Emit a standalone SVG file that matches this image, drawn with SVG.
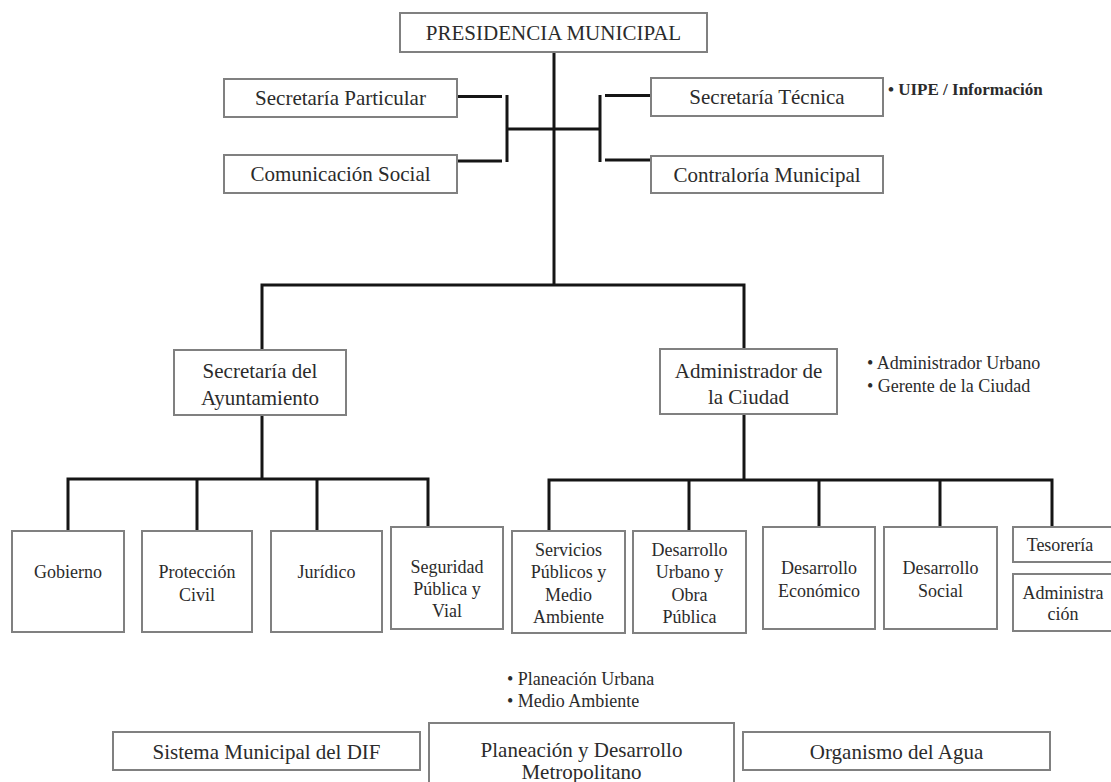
<svg xmlns="http://www.w3.org/2000/svg" width="1111" height="782" viewBox="0 0 1111 782">
  <style>
    .box { fill: #ffffff; stroke: #808080; stroke-width: 2; }
    .lbl { font-family: "Liberation Serif", "Times New Roman", serif; fill: #2b2b2b; text-anchor: middle; }
    .big { font-size: 21px; }
    .mid { font-size: 21px; }
    .small { font-size: 18px; }
    .note { font-family: "Liberation Serif", "Times New Roman", serif; fill: #2b2b2b; font-size: 18px; }
    .note-b { font-family: "Liberation Serif", "Times New Roman", serif; fill: #2b2b2b; font-size: 17px; font-weight: bold; }
    .wire { fill: none; stroke: #151515; stroke-width: 3; }
  </style>
  <rect width="1111" height="782" fill="#ffffff"/>

  <!-- connectors -->
  <g id="connectors">
    <!-- presidency trunk -->
    <line class="wire" x1="554" y1="52" x2="554" y2="286"/>
    <!-- staff units, left bracket -->
    <line class="wire" x1="457" y1="96.5" x2="502" y2="96.5"/>
    <line class="wire" x1="457" y1="161" x2="502" y2="161"/>
    <line class="wire" x1="507" y1="95" x2="507" y2="162"/>
    <!-- staff units, right bracket -->
    <line class="wire" x1="507" y1="129" x2="600" y2="129"/>
    <line class="wire" x1="600" y1="95" x2="600" y2="162"/>
    <line class="wire" x1="605" y1="95.5" x2="651" y2="95.5"/>
    <line class="wire" x1="605" y1="160" x2="651" y2="160"/>
    <!-- split to the two main branches -->
    <polyline class="wire" points="262,350 262,285 744,285 744,349"/>
    <!-- Secretaría del Ayuntamiento branch -->
    <line class="wire" x1="262" y1="415" x2="262" y2="479"/>
    <polyline class="wire" points="68,531 68,479 428,479 428,527"/>
    <line class="wire" x1="197" y1="479" x2="197" y2="531"/>
    <line class="wire" x1="317" y1="479" x2="317" y2="531"/>
    <!-- Administrador de la Ciudad branch -->
    <line class="wire" x1="744" y1="414" x2="744" y2="480"/>
    <polyline class="wire" points="549,531 549,480 1052,480 1052,527"/>
    <line class="wire" x1="689" y1="480" x2="689" y2="531"/>
    <line class="wire" x1="819" y1="480" x2="819" y2="527"/>
    <line class="wire" x1="940" y1="480" x2="940" y2="527"/>
  </g>

  <g id="presidencia">
    <rect class="box" x="400" y="13" width="307" height="39"/>
    <text class="lbl big" x="553.5" y="40">PRESIDENCIA MUNICIPAL</text>
  </g>

  <g id="sec-particular">
    <rect class="box" x="224" y="79" width="233" height="38"/>
    <text class="lbl mid" x="340.5" y="105">Secretaría Particular</text>
  </g>

  <g id="comunicacion">
    <rect class="box" x="224" y="155" width="233" height="38"/>
    <text class="lbl mid" x="340.5" y="181">Comunicación Social</text>
  </g>

  <g id="sec-tecnica">
    <rect class="box" x="651" y="78" width="232" height="38"/>
    <text class="lbl mid" x="767" y="104">Secretaría Técnica</text>
    <text class="note-b" x="888" y="95">• UIPE / Información</text>
  </g>

  <g id="contraloria">
    <rect class="box" x="651" y="156" width="232" height="37"/>
    <text class="lbl mid" x="767" y="182">Contraloría Municipal</text>
  </g>

  <g id="ayuntamiento">
    <rect class="box" x="174" y="350" width="172" height="65"/>
    <text class="lbl mid" x="260" y="378">Secretaría del</text>
    <text class="lbl mid" x="260" y="405">Ayuntamiento</text>
  </g>

  <g id="administrador">
    <rect class="box" x="660" y="349" width="177" height="65"/>
    <text class="lbl mid" x="748.5" y="378">Administrador de</text>
    <text class="lbl mid" x="748.5" y="404">la Ciudad</text>
    <text class="note" x="867" y="369">• Administrador Urbano</text>
    <text class="note" x="867" y="392">• Gerente de la Ciudad</text>
  </g>

  <g id="gobierno">
    <rect class="box" x="12" y="531" width="112" height="101"/>
    <text class="lbl small" x="68" y="578">Gobierno</text>
  </g>

  <g id="proteccion">
    <rect class="box" x="142" y="531" width="110" height="101"/>
    <text class="lbl small" x="197" y="578">Protección</text>
    <text class="lbl small" x="197" y="601">Civil</text>
  </g>

  <g id="juridico">
    <rect class="box" x="271" y="531" width="111" height="101"/>
    <text class="lbl small" x="326.5" y="578">Jurídico</text>
  </g>

  <g id="seguridad">
    <rect class="box" x="391" y="527" width="112" height="102"/>
    <text class="lbl small" x="447" y="573">Seguridad</text>
    <text class="lbl small" x="447" y="595">Pública y</text>
    <text class="lbl small" x="447" y="617">Vial</text>
  </g>

  <g id="servicios">
    <rect class="box" x="512" y="531" width="113" height="102"/>
    <text class="lbl small" x="568.5" y="556">Servicios</text>
    <text class="lbl small" x="568.5" y="578">Públicos y</text>
    <text class="lbl small" x="568.5" y="601">Medio</text>
    <text class="lbl small" x="568.5" y="623">Ambiente</text>
  </g>

  <g id="desarrollo-urbano">
    <rect class="box" x="633" y="531" width="113" height="102"/>
    <text class="lbl small" x="689.5" y="556">Desarrollo</text>
    <text class="lbl small" x="689.5" y="578">Urbano y</text>
    <text class="lbl small" x="689.5" y="601">Obra</text>
    <text class="lbl small" x="689.5" y="623">Pública</text>
  </g>

  <g id="desarrollo-economico">
    <rect class="box" x="763" y="527" width="112" height="102"/>
    <text class="lbl small" x="819" y="574">Desarrollo</text>
    <text class="lbl small" x="819" y="597">Económico</text>
  </g>

  <g id="desarrollo-social">
    <rect class="box" x="884" y="527" width="113" height="102"/>
    <text class="lbl small" x="940.5" y="574">Desarrollo</text>
    <text class="lbl small" x="940.5" y="597">Social</text>
  </g>

  <g id="tesoreria">
    <rect class="box" x="1013" y="527" width="105" height="35"/>
    <text class="lbl small" x="1060" y="551">Tesorería</text>
  </g>

  <g id="administracion">
    <rect class="box" x="1013" y="574" width="105" height="57"/>
    <text class="lbl small" x="1063" y="599">Administra</text>
    <text class="lbl small" x="1063" y="620">ción</text>
  </g>

  <g id="dif">
    <rect class="box" x="113" y="732" width="307" height="38"/>
    <text class="lbl big" x="266.5" y="759">Sistema Municipal del DIF</text>
  </g>

  <g id="planeacion">
    <text class="note" x="507" y="685">• Planeación Urbana</text>
    <text class="note" x="507" y="707">• Medio Ambiente</text>
    <rect class="box" x="429" y="723" width="305" height="62"/>
    <text class="lbl big" x="581.5" y="757">Planeación y Desarrollo</text>
    <text class="lbl big" x="581.5" y="779">Metropolitano</text>
  </g>

  <g id="agua">
    <rect class="box" x="743" y="732" width="307" height="38"/>
    <text class="lbl big" x="896.5" y="759">Organismo del Agua</text>
  </g>
</svg>
